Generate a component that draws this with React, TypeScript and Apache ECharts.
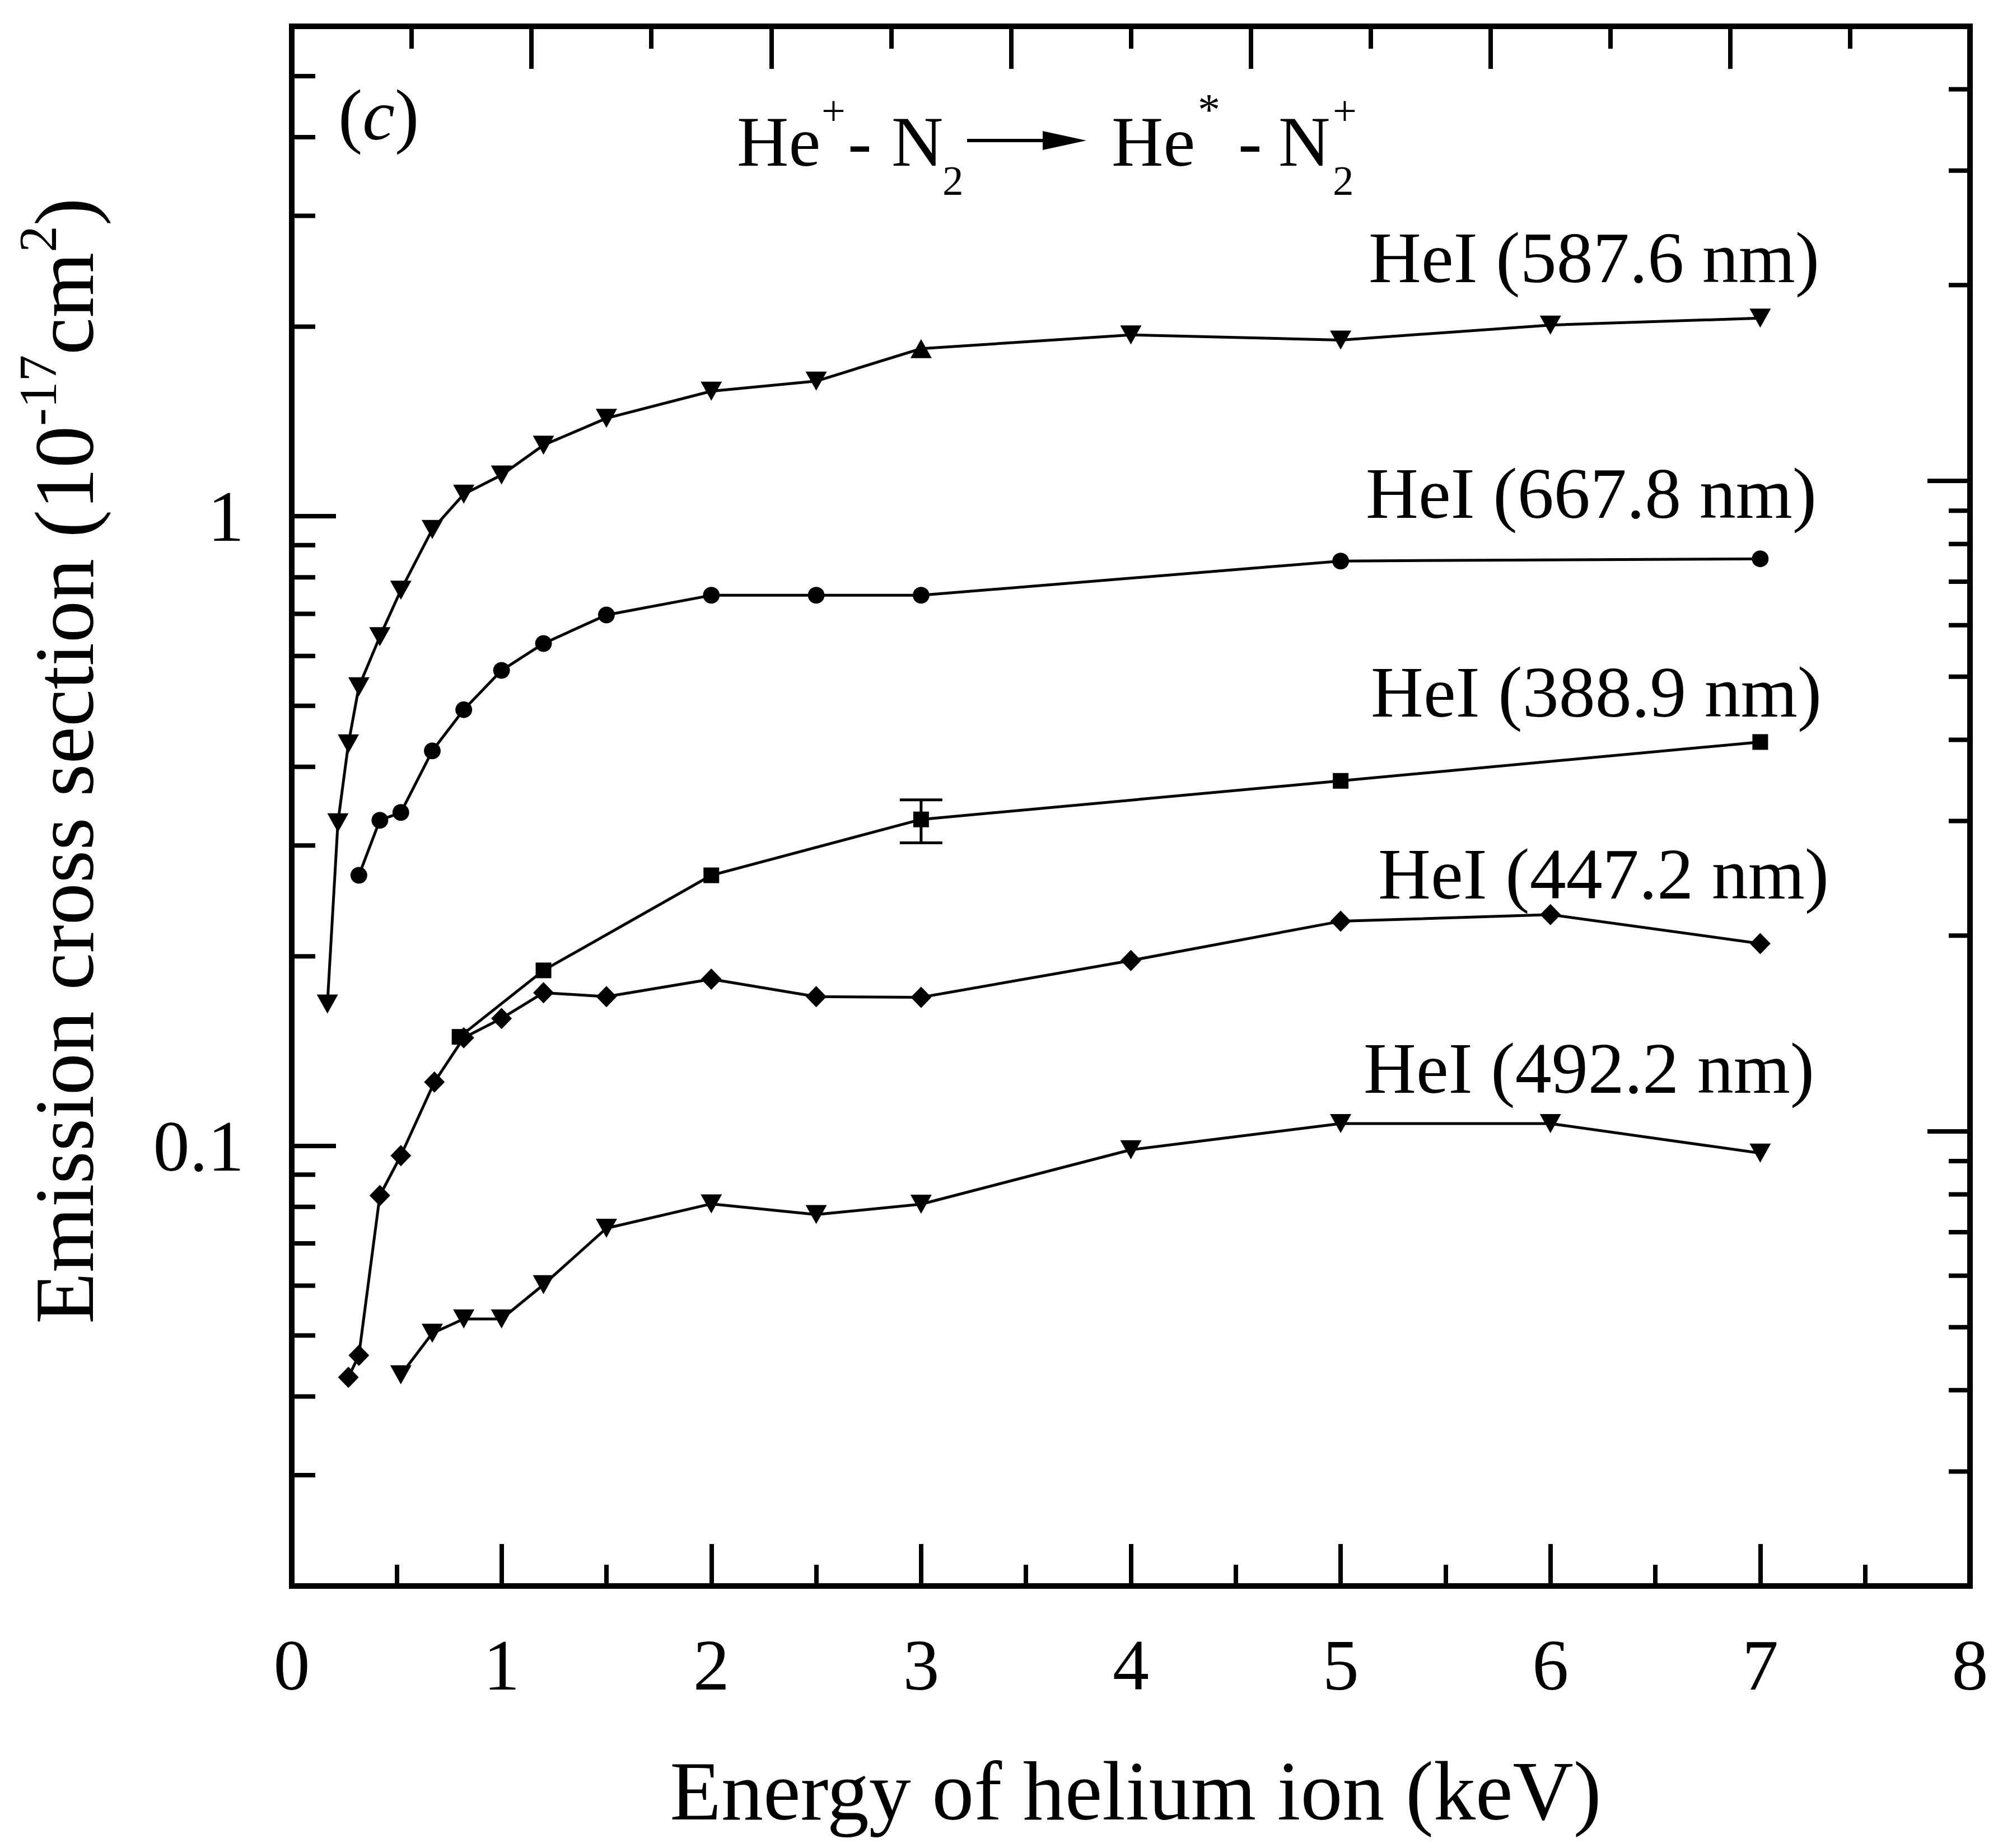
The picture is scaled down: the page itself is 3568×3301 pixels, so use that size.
import React, { useEffect, useRef } from "react";
import * as echarts from "echarts";

const FONT = "'Liberation Serif', 'Times New Roman', Times, serif";

// ---- axes ----
const xMin = 0;
const xMaxBottom = 8;
const xMaxTop = 7;
const yMin = 0.02;
const yMaxLeft = 6;
const yMaxRight = 5;
const leftMinorTicks = [0.03, 0.04, 0.05, 0.06, 0.07, 0.08, 0.09, 0.2, 0.3, 0.4, 0.5, 0.6, 0.7, 0.8, 0.9, 2, 3, 4, 5];
const rightMinorTicks = [0.03, 0.04, 0.05, 0.06, 0.07, 0.08, 0.09, 0.2, 0.3, 0.4, 0.5, 0.6, 0.7, 0.8, 0.9, 2, 3, 4];

// ---- data (energy in keV, cross section in 1e-17 cm^2) ----
const energy587 = [0.17, 0.22, 0.27, 0.32, 0.42, 0.52, 0.67, 0.82, 1.0, 1.2, 1.5, 2.0, 2.5, 3, 4, 5, 6, 7];
const sigma587 = [0.168, 0.326, 0.435, 0.536, 0.644, 0.763, 0.953, 1.084, 1.163, 1.297, 1.431, 1.58, 1.639, 1.846, 1.941, 1.905, 2.012, 2.064];
const upTriangleEnergy587 = 3;

const energy667 = [0.32, 0.42, 0.52, 0.67, 0.82, 1.0, 1.2, 1.5, 2.0, 2.5, 3, 5, 7];
const sigma667 = [0.269, 0.329, 0.3385, 0.424, 0.493, 0.569, 0.628, 0.697, 0.749, 0.749, 0.749, 0.849, 0.856];

const energy388 = [0.8, 1.2, 2, 3, 5, 7];
const sigma388 = [0.149, 0.19, 0.269, 0.33, 0.38, 0.438];

const energy447 = [0.27, 0.32, 0.42, 0.52, 0.68, 0.82, 1.0, 1.2, 1.5, 2, 2.5, 3, 4, 5, 6, 7];
const sigma447 = [0.0429, 0.0465, 0.0834, 0.0965, 0.1263, 0.1485, 0.1594, 0.1751, 0.1726, 0.184, 0.1726, 0.1722, 0.197, 0.2274, 0.233, 0.2096];

const energy492 = [0.52, 0.67, 0.82, 1.0, 1.2, 1.5, 2, 2.5, 3, 4, 5, 6, 7];
const sigma492 = [0.0433, 0.0504, 0.0531, 0.0531, 0.0602, 0.074, 0.0809, 0.0778, 0.0808, 0.0986, 0.1085, 0.1085, 0.0974];

const errEnergy = [3];
const errLow = [0.303];
const errHigh = [0.3545];

const curveLabels = ["HeI (587.6 nm)", "HeI (667.8 nm)", "HeI (388.9 nm)", "HeI (447.2 nm)", "HeI (492.2 nm)"];

const mid = (baseline: number, size: number) => baseline - 0.34 * size;

function tickSeries(values: number[], yAxisIndex: number, xEdge: number, dir: number, len: number) {
  return {
    type: "custom",
    xAxisIndex: 0,
    yAxisIndex,
    silent: true,
    clip: false,
    z: 5,
    data: values.map((v) => [xEdge, v]),
    encode: { x: 0, y: 1 },
    renderItem: (_p: any, api: any) => {
      const p = api.coord([api.value(0), api.value(1)]);
      return {
        type: "line",
        shape: { x1: p[0], y1: p[1], x2: p[0] + dir * len, y2: p[1] },
        style: { stroke: "#000", lineWidth: 8 },
      };
    },
  };
}

function lineSeries(name: string, xs: number[], ys: number[], symbol: string, size: any, rotate: number, special?: (x: number) => any) {
  return {
    type: "line",
    name,
    xAxisIndex: 0,
    yAxisIndex: 0,
    silent: true,
    showAllSymbol: true,
    symbol,
    symbolSize: size,
    symbolRotate: rotate,
    lineStyle: { color: "#000", width: 5 },
    itemStyle: { color: "#000" },
    z: 3,
    data: xs.map((x, i) => {
      const extra = special ? special(x) : null;
      return extra ? { value: [x, ys[i]], ...extra } : [x, ys[i]];
    }),
  };
}

function txt(text: string, x: number, baseline: number, size: number, extra: any = {}) {
  return {
    type: "text",
    x,
    y: mid(baseline, size),
    silent: true,
    z: 10,
    style: {
      text,
      fill: "#000",
      fontSize: size,
      fontFamily: FONT,
      textAlign: "left",
      textVerticalAlign: "middle",
      ...extra,
    },
  };
}

export default function App() {
  const ref = useRef<HTMLDivElement>(null);

  useEffect(() => {
    const el = ref.current!;
    const chart = echarts.init(el, undefined, { renderer: "svg" });

    const labelBaselines = [504, 925, 1280, 1605, 1952];
    const labelX = [2444, 2439, 2448, 2461, 2435];

    const option: any = {
      animation: false,
      backgroundColor: "#fff",
      grid: {
        left: 521,
        right: 50,
        top: 47,
        bottom: 468,
        show: true,
        borderColor: "#000",
        borderWidth: 10,
        backgroundColor: "transparent",
      },
      xAxis: [
        {
          type: "value",
          position: "bottom",
          min: xMin,
          max: xMaxBottom,
          interval: 1,
          axisLine: { show: false, onZero: false },
          axisTick: { show: true, inside: true, length: 75, lineStyle: { color: "#000", width: 8 } },
          minorTick: { show: true, splitNumber: 2, length: 38, lineStyle: { color: "#000", width: 8 } },
          axisLabel: { margin: 76, fontSize: 130, fontFamily: FONT, color: "#000" },
          splitLine: { show: false },
          minorSplitLine: { show: false },
        },
        {
          type: "value",
          position: "top",
          min: xMin,
          max: xMaxTop,
          interval: 1,
          axisLine: { show: false, onZero: false },
          axisTick: { show: true, inside: true, length: 76, lineStyle: { color: "#000", width: 8 } },
          minorTick: { show: true, splitNumber: 2, length: 40, lineStyle: { color: "#000", width: 8 } },
          axisLabel: { show: false },
          splitLine: { show: false },
        },
      ],
      yAxis: [
        {
          type: "log",
          logBase: 10,
          position: "left",
          min: yMin,
          max: yMaxLeft,
          axisLine: { show: false, onZero: false },
          axisTick: { show: true, inside: true, length: 79, lineStyle: { color: "#000", width: 8 } },
          axisLabel: {
            margin: 85,
            fontSize: 130,
            fontFamily: FONT,
            color: "#000",
            showMinLabel: false,
            showMaxLabel: false,
            formatter: (v: number) => {
              const r = Math.round(Math.log10(v) * 1000) / 1000;
              if (!Number.isInteger(r)) return "";
              return r === 0 ? "1" : String(Math.pow(10, r));
            },
          },
          splitLine: { show: false },
        },
        {
          type: "log",
          logBase: 10,
          position: "right",
          min: yMin,
          max: yMaxRight,
          axisLine: { show: false, onZero: false },
          axisTick: { show: true, inside: true, length: 76, lineStyle: { color: "#000", width: 8 } },
          axisLabel: { show: false },
          splitLine: { show: false },
        },
      ],
      series: [
        tickSeries(leftMinorTicks, 0, xMin, 1, 42),
        tickSeries(rightMinorTicks, 1, xMaxBottom, -1, 38),
        lineSeries("HeI (587.6 nm)", energy587, sigma587, "triangle", [38, 34], 180, (x) =>
          x === upTriangleEnergy587 ? { symbolRotate: 0 } : null
        ),
        lineSeries("HeI (667.8 nm)", energy667, sigma667, "circle", 30, 0),
        lineSeries("HeI (388.9 nm)", energy388, sigma388, "rect", 28, 0),
        lineSeries("HeI (447.2 nm)", energy447, sigma447, "diamond", [37, 38], 0),
        lineSeries("HeI (492.2 nm)", energy492, sigma492, "triangle", [38, 34], 180),
        {
          type: "custom",
          xAxisIndex: 0,
          yAxisIndex: 0,
          silent: true,
          z: 4,
          data: errEnergy.map((x, i) => [x, errLow[i], errHigh[i]]),
          encode: { x: 0, y: [1, 2] },
          renderItem: (_p: any, api: any) => {
            const x = api.value(0);
            const lo = api.coord([x, api.value(1)]);
            const hi = api.coord([x, api.value(2)]);
            const half = 38;
            const st = { stroke: "#000", lineWidth: 5 };
            return {
              type: "group",
              children: [
                { type: "line", shape: { x1: lo[0], y1: lo[1], x2: hi[0], y2: hi[1] }, style: st },
                { type: "line", shape: { x1: lo[0] - half, y1: lo[1], x2: lo[0] + half, y2: lo[1] }, style: st },
                { type: "line", shape: { x1: hi[0] - half, y1: hi[1], x2: hi[0] + half, y2: hi[1] }, style: st },
              ],
            };
          },
        },
      ],
      graphic: [
        ...curveLabels.map((t, i) => txt(t, labelX[i], labelBaselines[i], 130)),
        // panel label (c)
        {
          type: "text",
          x: 604,
          y: mid(249, 130),
          silent: true,
          style: {
            text: "({i|c})",
            fill: "#000",
            fontSize: 130,
            fontFamily: FONT,
            textAlign: "left",
            textVerticalAlign: "middle",
            rich: { i: { fontSize: 130, fontFamily: FONT, fontStyle: "italic", fill: "#000" } },
          },
        },
        // reaction formula
        txt("He", 1316, 297, 128),
        txt("+", 1467, 223, 76),
        txt("-", 1514, 297, 128),
        txt("N", 1592, 297, 128),
        txt("2", 1683, 348, 75),
        {
          type: "line",
          silent: true,
          shape: { x1: 1727, y1: 251, x2: 1870, y2: 251 },
          style: { stroke: "#000", lineWidth: 6 },
        },
        {
          type: "polygon",
          silent: true,
          shape: { points: [[1862, 234], [1940, 251], [1862, 268]] },
          style: { fill: "#000" },
        },
        txt("He", 1985, 297, 128),
        txt("*", 2139, 223, 80),
        txt("-", 2211, 297, 128),
        txt("N", 2283, 297, 128),
        txt("2", 2380, 348, 75),
        txt("+", 2380, 223, 76),
        // x axis title
        {
          type: "text",
          x: 2028,
          y: mid(3250, 150),
          silent: true,
          style: {
            text: "Energy of helium ion (keV)",
            fill: "#000",
            fontSize: 150,
            fontFamily: FONT,
            textAlign: "center",
            textVerticalAlign: "middle",
          },
        },
        // y axis title
        {
          type: "text",
          x: 166 - 0.34 * 150,
          y: 1359,
          rotation: Math.PI / 2,
          silent: true,
          style: {
            text: "{m|Emission cross section (10}{s|-17}{m|cm}{s|2}{m|)}",
            fill: "#000",
            fontSize: 150,
            fontFamily: FONT,
            textAlign: "center",
            textVerticalAlign: "middle",
            rich: {
              m: { fontSize: 150, fontFamily: FONT, lineHeight: 190, fill: "#000" },
              s: { fontSize: 95, fontFamily: FONT, lineHeight: 20, verticalAlign: "top", fill: "#000" },
            },
          },
        },
      ],
    };

    chart.setOption(option);
    return () => chart.dispose();
  }, []);

  return (
    <div
      ref={ref}
      style={{ position: "absolute", left: 0, top: 0, width: 3568, height: 3301, background: "#fff" }}
    />
  );
}
